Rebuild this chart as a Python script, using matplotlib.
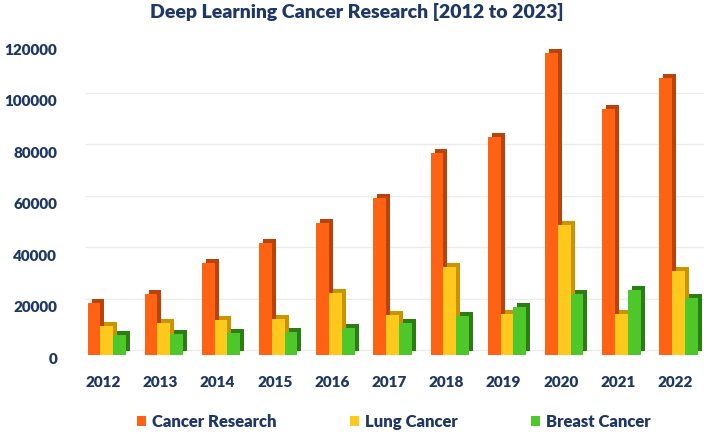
import numpy as np
import matplotlib
matplotlib.use("Agg")
import matplotlib.pyplot as plt
from matplotlib.patches import Patch
from matplotlib.transforms import ScaledTranslation

# ---------- data ----------
years = ["2012", "2013", "2014", "2015", "2016", "2017",
         "2018", "2019", "2020", "2021", "2022"]
cancer_research = [20200, 23900, 35700, 43700, 51200, 61000,
                   78700, 84700, 117700, 95800, 107700]
lung_cancer = [11200, 12500, 13500, 14200, 24300, 15500,
               34200, 16100, 50700, 16100, 32600]
breast_cancer = [7700, 8100, 8400, 9000, 10700, 12300,
                 15100, 18500, 23600, 25400, 22300]
series_names = ["Cancer Research", "Lung Cancer", "Breast Cancer"]
y_ticks = [0, 20000, 40000, 60000, 80000, 100000, 120000]

# ---------- style ----------
navy = "#1F3766"
front_cols = ["#FF6212", "#FFC81C", "#4EC72A"]
side_cols = ["#B9430B", "#C99400", "#2B7E14"]
plt.rcParams["font.family"] = ["Lato", "DejaVu Sans"]
plt.rcParams["font.weight"] = "heavy"

fig = plt.figure(figsize=(7.08, 4.34), dpi=100)
ax = fig.add_axes([74.7 / 708, 79 / 434, 629 / 708, 308.4 / 434])

x = np.arange(len(years))
w = 0.224
shift = 0.06
depth = ScaledTranslation(4 / 100, 4 / 100, fig.dpi_scale_trans)
values = [cancer_research, lung_cancer, breast_cancer]

for i, vals in enumerate(values):
    pos = x + shift + (i - 1) * w
    # darker copy pushed back and up gives the side/top faces
    ax.bar(pos, vals, w, color=side_cols[i], zorder=2,
           transform=ax.transData + depth, linewidth=0)
    ax.bar(pos, vals, w, color=front_cols[i], zorder=3, linewidth=0)

# back-wall gridlines
grid_off = ScaledTranslation(0, 5 / 100, fig.dpi_scale_trans)
for v in y_ticks:
    ax.plot([-0.3, 10.5], [v, v], color="#EBEBEB", lw=0.9, zorder=1,
            transform=ax.transData + grid_off)
ax.plot([-0.3, 10.5], [0, 0], color="#E4E4E4", lw=0.9, zorder=1,
        transform=ax.transData + ScaledTranslation(0, -4 / 100, fig.dpi_scale_trans))

ax.set_xlim(-0.5, 10.5)
ax.set_ylim(0, 120000)
ax.set_xticks(x)
ax.set_xticklabels(years)
ax.set_yticks(y_ticks)
ax.set_yticklabels([str(v) for v in y_ticks])
ax.tick_params(axis="both", length=0, labelsize=11, labelcolor=navy)
ax.tick_params(axis="y", pad=12.7)
ax.tick_params(axis="x", pad=15)
for lbl in ax.get_yticklabels():
    lbl.set_transform(lbl.get_transform()
                      + ScaledTranslation(0, -3 / 100, fig.dpi_scale_trans))
for s in ax.spines.values():
    s.set_visible(False)

fig.text(356.5 / 708, 1 - 12 / 434, "Deep Learning Cancer Research [2012 to 2023]",
         ha="center", va="center", fontsize=14, fontweight="heavy", color=navy)

handles = [Patch(facecolor=c, edgecolor="none") for c in front_cols]
leg = fig.legend(handles, series_names, loc="center", ncol=3, frameon=False,
                 bbox_to_anchor=(393.5 / 708, 1 - 422 / 434),
                 fontsize=12, handlelength=0.55, handleheight=0.55,
                 handletextpad=0.35, columnspacing=4.4)
for t in leg.get_texts():
    t.set_color(navy)
    t.set_fontweight("heavy")

fig.savefig("out.png", dpi=100)
